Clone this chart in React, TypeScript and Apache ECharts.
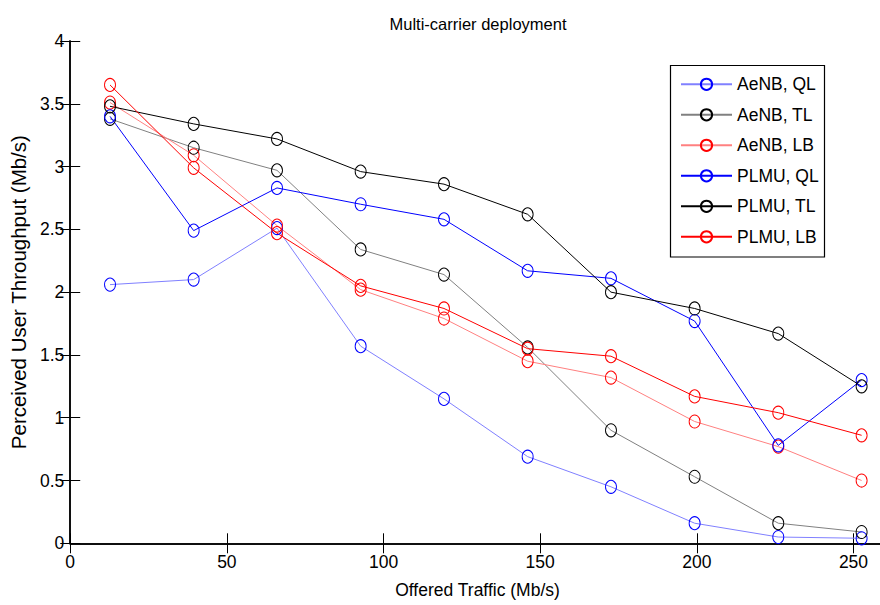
import React, { useEffect, useRef } from "react";
import * as echarts from "echarts";

const xValues = [12.7, 39.4, 66, 92.7, 119.3, 146, 172.6, 199.3, 226, 252.6];
const aenbQL = [2.06, 2.1, 2.51, 1.57, 1.15, 0.69, 0.45, 0.16, 0.05, 0.04];
const aenbTL = [3.38, 3.15, 2.97, 2.34, 2.14, 1.56, 0.9, 0.53, 0.16, 0.09];
const aenbLB = [3.51, 3.09, 2.53, 2.02, 1.79, 1.45, 1.32, 0.97, 0.77, 0.5];
const plmuQL = [3.4, 2.49, 2.83, 2.7, 2.58, 2.17, 2.11, 1.77, 0.78, 1.3];
const plmuTL = [3.48, 3.34, 3.22, 2.96, 2.86, 2.62, 2.0, 1.87, 1.67, 1.25];
const plmuLB = [3.65, 2.99, 2.47, 2.05, 1.87, 1.55, 1.49, 1.17, 1.04, 0.86];

const seriesDefs = [
  { name: "AeNB, QL", values: aenbQL, color: "#0000ff", line: "#8080ff" },
  { name: "AeNB, TL", values: aenbTL, color: "#000000", line: "#808080" },
  { name: "AeNB, LB", values: aenbLB, color: "#ff0000", line: "#ff8080" },
  { name: "PLMU, QL", values: plmuQL, color: "#0000ff", line: "#0000ff" },
  { name: "PLMU, TL", values: plmuTL, color: "#000000", line: "#000000" },
  { name: "PLMU, LB", values: plmuLB, color: "#ff0000", line: "#ff0000" },
];

const FONT = "'Liberation Sans', Arial, Helvetica, sans-serif";

export default function App() {
  const ref = useRef<HTMLDivElement>(null);
  useEffect(() => {
    if (!ref.current) return;
    const chart = echarts.init(ref.current, null, { renderer: "svg" });
    const axisCommon = {
      min: 0,
      axisLine: { show: true, lineStyle: { color: "#000", width: 1.5 } },
      axisTick: { show: true, inside: true, length: 10, lineStyle: { color: "#000", width: 1 } },
      splitLine: { show: false },
    };
    chart.setOption({
      animation: false,
      backgroundColor: "#fff",
      textStyle: { fontFamily: FONT },
      title: {
        text: "Multi-carrier deployment",
        left: 473,
        top: 10,
        textAlign: "center",
        textStyle: { fontFamily: FONT, fontSize: 16.5, fontWeight: "normal", color: "#000" },
      },
      grid: { left: 66.7, right: 1.2, top: 41, bottom: 61.7 },
      legend: {
        orient: "vertical",
        left: 680,
        top: 74.3,
        padding: 0,
        itemWidth: 51,
        itemHeight: 14,
        itemGap: 10.5,
        selectedMode: false,
        z: 10,
        textStyle: { fontFamily: FONT, fontSize: 17.5, color: "#000", lineHeight: 20 },
        data: seriesDefs.map((s) => s.name),
      },
      graphic: [
        {
          type: "rect",
          z: 5,
          shape: { x: 670.5, y: 65.5, width: 154, height: 191.5 },
          style: { fill: "#fff", stroke: "#000", lineWidth: 1.2 },
        },
      ],
      xAxis: [
        {
          ...axisCommon,
          type: "value",
          max: 260,
          interval: 50,
          position: "bottom",
          name: "Offered Traffic (Mb/s)",
          nameLocation: "middle",
          nameGap: 38,
          nameTextStyle: { fontFamily: FONT, fontSize: 17.5, color: "#000" },
          axisLabel: { show: true, margin: 10, fontFamily: FONT, fontSize: 17.5, color: "#000", showMaxLabel: false },
        },
        {
          ...axisCommon,
          type: "value",
          max: 260,
          interval: 50,
          position: "top",
          axisLabel: { show: false },
        },
      ],
      yAxis: [
        {
          ...axisCommon,
          type: "value",
          max: 4,
          interval: 0.5,
          position: "left",
          name: "Perceived User Throughput (Mb/s)",
          nameLocation: "middle",
          nameGap: 37,
          nameTextStyle: { fontFamily: FONT, fontSize: 20.5, color: "#000" },
          axisLabel: { show: true, margin: 6, fontFamily: FONT, fontSize: 17.5, color: "#000" },
        },
        {
          ...axisCommon,
          type: "value",
          max: 4,
          interval: 0.5,
          position: "right",
          axisLabel: { show: false },
        },
      ],
      series: seriesDefs.map((s) => ({
        name: s.name,
        type: "line",
        xAxisIndex: 0,
        yAxisIndex: 0,
        data: xValues.map((x, i) => [x, s.values[i]]),
        symbol: "circle",
        symbolSize: [11, 13],
        showSymbol: true,
        lineStyle: { color: s.line, width: 1 },
        itemStyle: { color: "rgba(255,255,255,0)", borderColor: s.color, borderWidth: 1 },
        emphasis: { disabled: true },
      })),
    });
    return () => chart.dispose();
  }, []);
  return (
    <div style={{ position: "fixed", left: 0, top: 0, width: 880, height: 605, overflow: "hidden", background: "#fff" }}>
      <div ref={ref} style={{ width: 886, height: 605 }} />
    </div>
  );
}
